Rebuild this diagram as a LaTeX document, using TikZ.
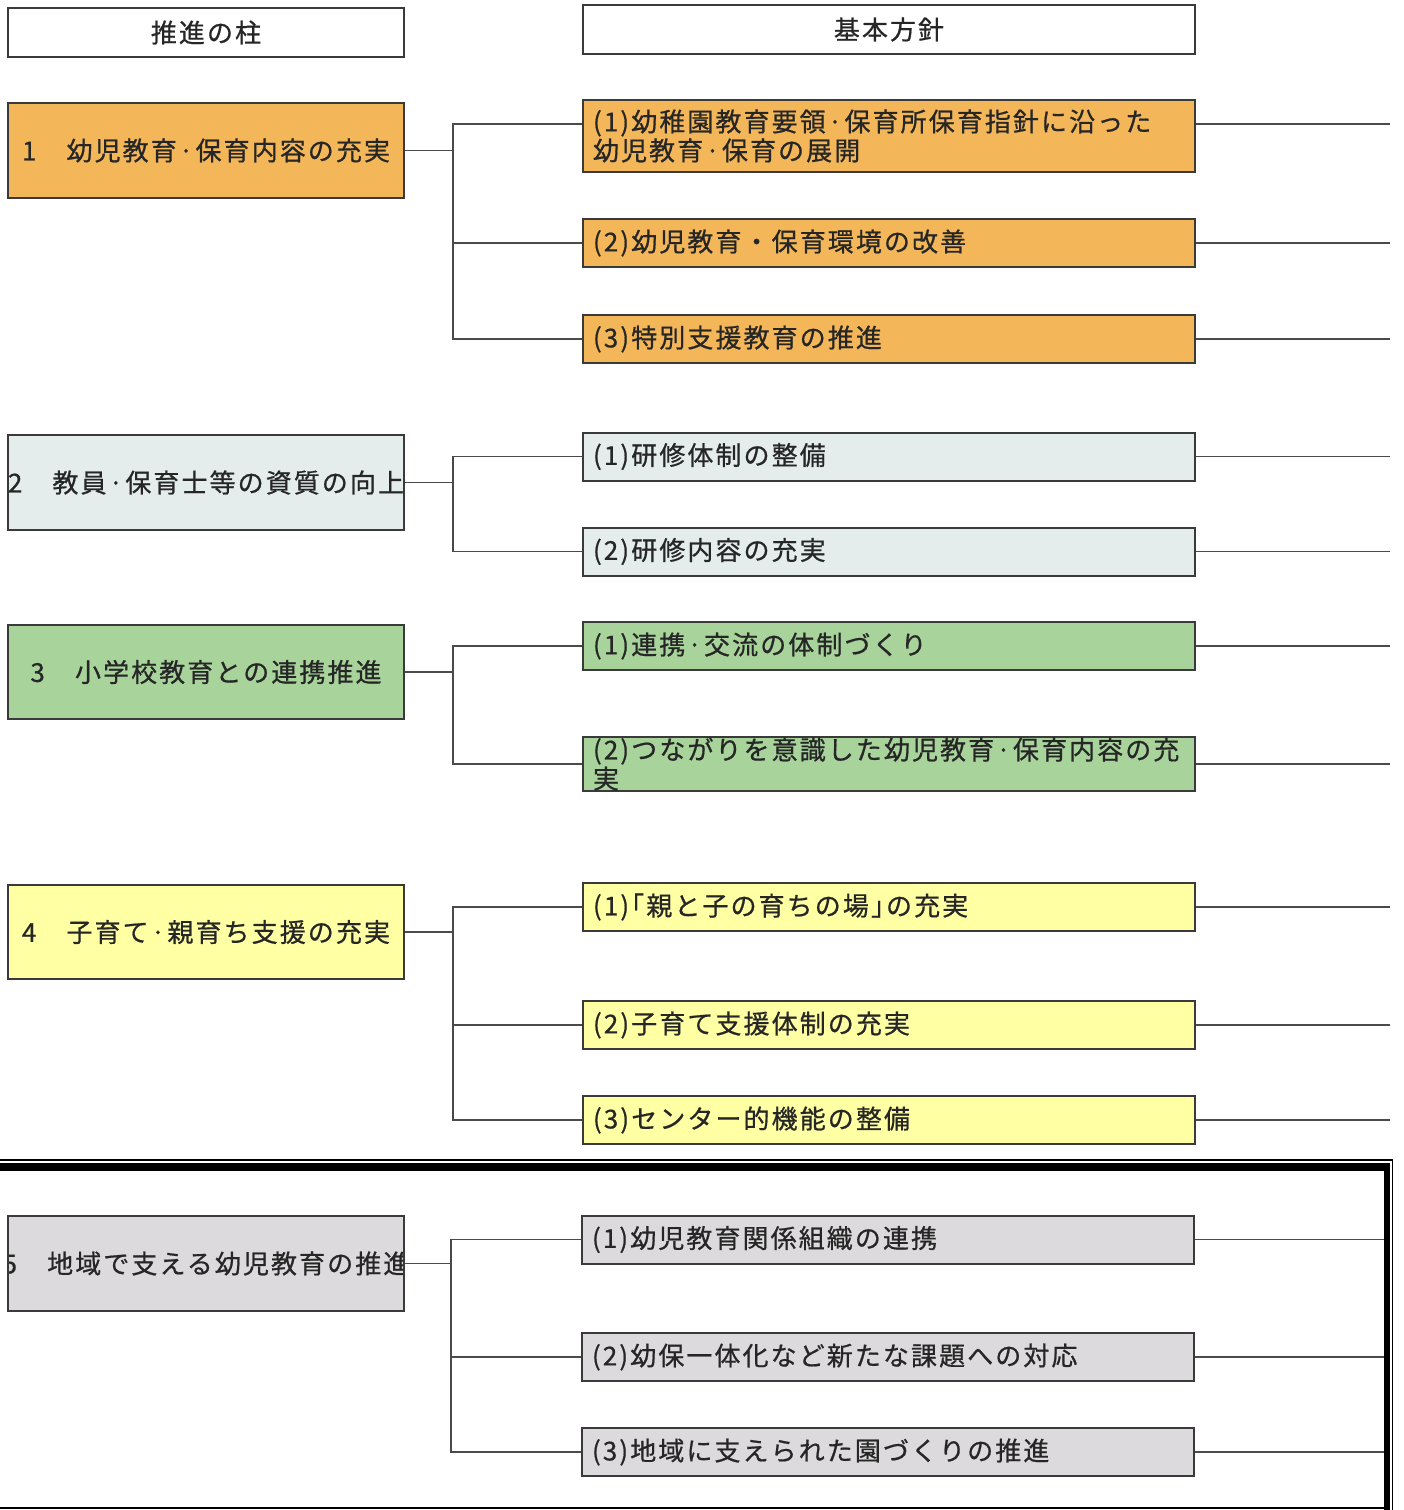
\documentclass[tikz,border=0pt]{standalone}
\usepackage{fontspec}
\setmainfont{Noto Sans CJK JP}[LetterSpace=8, FakeBold=0.7]
\definecolor{orangefill}{HTML}{F3B75A}
\definecolor{bluefill}{HTML}{E4EDEC}
\definecolor{greenfill}{HTML}{A8D49C}
\definecolor{yellowfill}{HTML}{FFFFA3}
\definecolor{grayfill}{HTML}{DCDADC}
\definecolor{bordercol}{HTML}{3A3A3A}
\definecolor{linecol}{HTML}{4A4A4A}
\definecolor{textcol}{HTML}{262626}
\begin{document}
\begin{tikzpicture}[x=0.5pt,y=-0.5pt,
  txt/.style={font=\fontsize{13pt}{12.5pt}\selectfont, text=textcol},
  header/.style={draw=bordercol, line width=1pt, fill=white, minimum height=24.5pt, inner sep=0pt, txt},
  pillar/.style={draw=bordercol, line width=1pt, minimum width=198pt, minimum height=47.5pt, inner sep=0pt},
  item/.style={draw=bordercol, line width=1pt, minimum width=306pt, minimum height=24pt, text width=296pt, inner xsep=5pt, inner ysep=0pt, align=left, txt},
  conn/.style={draw=linecol, line width=0.9pt},
  ptext/.style={path picture={\node[txt, inner sep=0pt] at (path picture bounding box.center) {#1};}}
]
\useasboundingbox (0,0) rectangle (1403,1510);

% headers
\node[header, minimum width=198pt] (h1) at (206,32.5) {推進の柱};
\node[header, minimum width=306pt] (h2) at (889,29.5) {基本方針};

% pillars
\node[pillar, fill=orangefill, ptext={1　幼児教育·保育内容の充実}] (p1) at (206,150.5) {};
\node[pillar, fill=bluefill, ptext={2　教員·保育士等の資質の向上}] (p2) at (206,482.5) {};
\node[pillar, fill=greenfill, minimum height=47pt, ptext={3　小学校教育との連携推進}] (p3) at (206,672) {};
\node[pillar, fill=yellowfill, minimum height=47pt, ptext={4　子育て·親育ち支援の充実}] (p4) at (206,932) {};
\node[pillar, fill=grayfill, ptext={5　地域で支える幼児教育の推進}] (p5) at (206,1263.5) {};

% items
\node[item, fill=orangefill, minimum height=36pt] (b11) at (889,136) {(1)幼稚園教育要領·保育所保育指針に沿った\\幼児教育·保育の展開};
\node[item, fill=orangefill] (b12) at (889,243) {(2)幼児教育・保育環境の改善};
\node[item, fill=orangefill] (b13) at (889,339) {(3)特別支援教育の推進};
\node[item, fill=bluefill] (b21) at (889,456.5) {(1)研修体制の整備};
\node[item, fill=bluefill] (b22) at (889,551.5) {(2)研修内容の充実};
\node[item, fill=greenfill] (b31) at (889,646) {(1)連携·交流の体制づくり};
\node[item, fill=greenfill] (b32) at (889,764) {(2)つながりを意識した幼児教育·保育内容の充\\実};
\node[item, fill=yellowfill] (b41) at (889,907) {(1)｢親と子の育ちの場｣の充実};
\node[item, fill=yellowfill] (b42) at (889,1025) {(2)子育て支援体制の充実};
\node[item, fill=yellowfill] (b43) at (889,1120) {(3)センター的機能の整備};
\node[item, fill=grayfill] (b51) at (888,1239.5) {(1)幼児教育関係組織の連携};
\node[item, fill=grayfill] (b52) at (888,1357) {(2)幼保一体化など新たな課題への対応};
\node[item, fill=grayfill] (b53) at (888,1452) {(3)地域に支えられた園づくりの推進};

% right edges
\coordinate (edge) at (1390,0);
\coordinate (edge5) at (1384,0);

% connectors group 1
\draw[conn] (p1.east) -- ++(24pt,0) |- ([yshift=6pt]b11.west);
\draw[conn] (p1.east) -- ++(24pt,0) |- (b12.west);
\draw[conn] (p1.east) -- ++(24pt,0) |- (b13.west);
% group 2
\draw[conn] (p2.east) -- ++(24pt,0) |- (b21.west);
\draw[conn] (p2.east) -- ++(24pt,0) |- (b22.west);
% group 3
\draw[conn] (p3.east) -- ++(24pt,0) |- (b31.west);
\draw[conn] (p3.east) -- ++(24pt,0) |- (b32.west);
% group 4
\draw[conn] (p4.east) -- ++(24pt,0) |- (b41.west);
\draw[conn] (p4.east) -- ++(24pt,0) |- (b42.west);
\draw[conn] (p4.east) -- ++(24pt,0) |- (b43.west);
% group 5
\draw[conn] (p5.east) -- ++(23pt,0) |- (b51.west);
\draw[conn] (p5.east) -- ++(23pt,0) |- (b52.west);
\draw[conn] (p5.east) -- ++(23pt,0) |- (b53.west);

% lines to the right edge
\draw[conn] ([yshift=6pt]b11.east) -- ([yshift=6pt]b11.east -| edge);
\foreach \b in {b12,b13,b21,b22,b31,b32,b41,b42,b43}
  \draw[conn] (\b.east) -- (\b.east -| edge);
\foreach \b in {b51,b52,b53}
  \draw[conn] (\b.east) -- (\b.east -| edge5);

% frame around section 5
\draw[black, line width=0.8pt] (0,1160) -- (1392.5,1160) -- (1392.5,1510);
\fill[black] (0,1163) rectangle (1390,1170.5);
\fill[black] (1383.5,1163) rectangle (1390,1510);
\draw[black, line width=0.8pt] (0,1508) -- (1384,1508);
\end{tikzpicture}
\end{document}
